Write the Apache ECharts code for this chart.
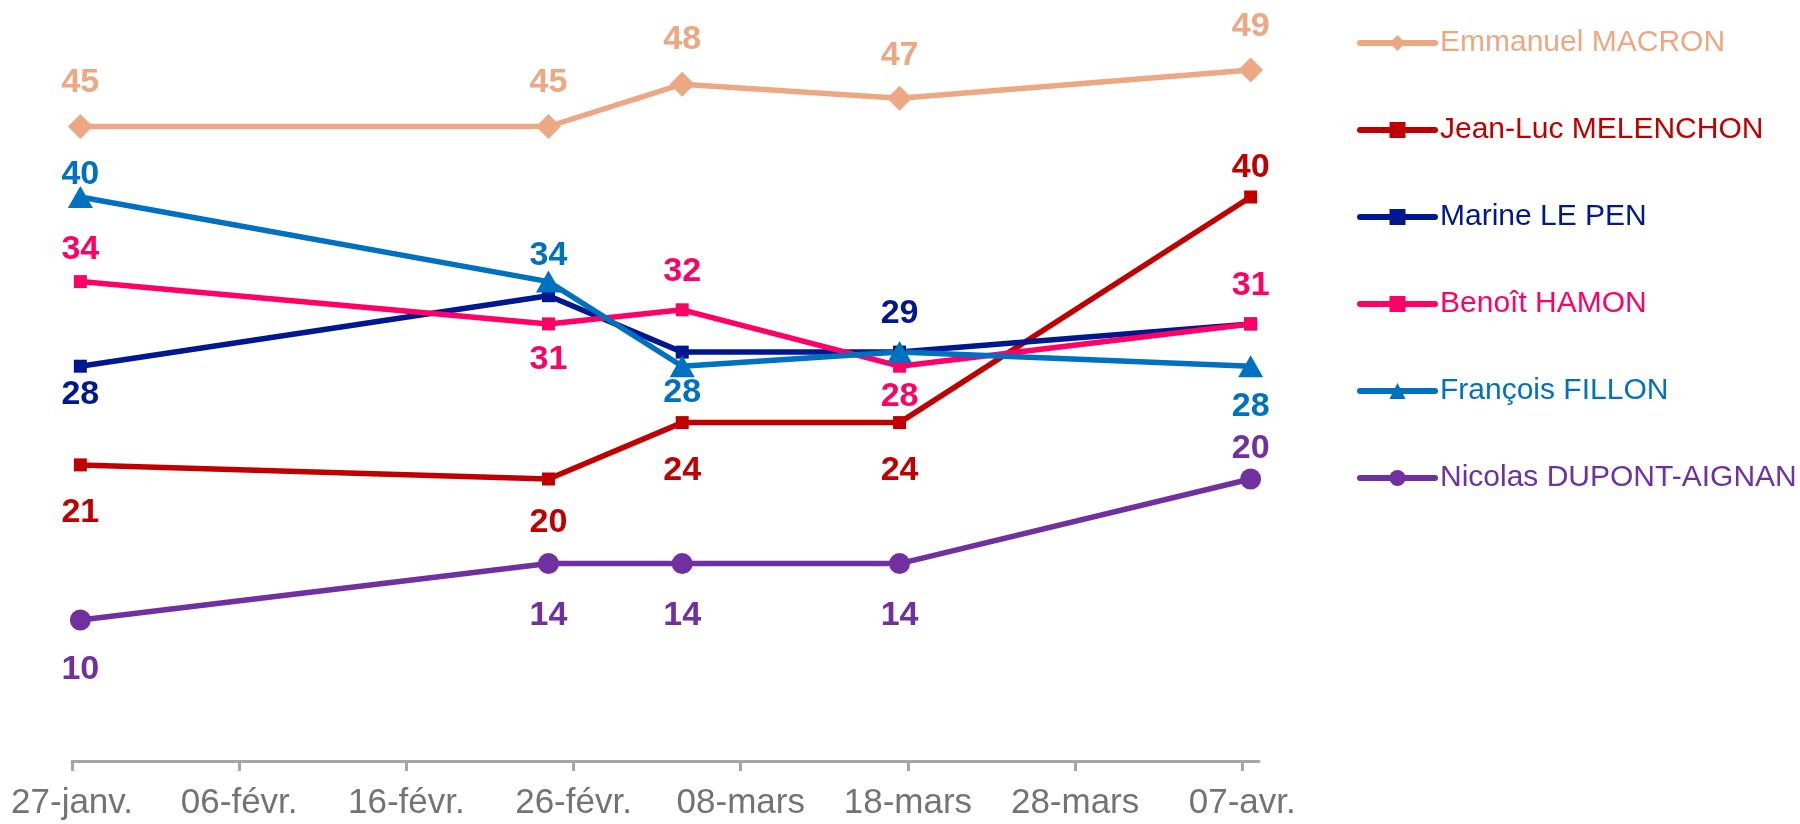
<!DOCTYPE html>
<html>
<head>
<meta charset="utf-8">
<script src="https://cdn.jsdelivr.net/npm/echarts@6/dist/echarts.min.js"></script>
<style>
  html, body { margin: 0; padding: 0; background: #ffffff; }
  #chart { width: 1800px; height: 824px; }
</style>
</head>
<body>
<div id="chart"></div>
<script>
// Survey waves
const pollDates = ['2017-01-27', '2017-02-24', '2017-03-04', '2017-03-17', '2017-04-07'];

// Scores per candidate, one value per survey wave
const macron       = [45, 45, 48, 47, 49];
const melenchon    = [21, 20, 24, 24, 40];
const lePen        = [28, 33, 29, 29, 31];
const hamon        = [34, 31, 32, 28, 31];
const fillon       = [40, 34, 28, 29, 28];
const dupontAignan = [10, 14, 14, 14, 20];

const candidateNames = [
  'Emmanuel MACRON', 'Jean-Luc MELENCHON', 'Marine LE PEN',
  'Benoît HAMON', 'François FILLON', 'Nicolas DUPONT-AIGNAN'
];
const candidateScores = [macron, melenchon, lePen, hamon, fillon, dupontAignan];

// Date axis: starts on 27 January, one tick every 10 days
const axisStart = '2017-01-27';
const tickLabels = ['27-janv.', '06-févr.', '16-févr.', '26-févr.', '08-mars', '18-mars', '28-mars', '07-avr.'];

// ---- presentation ----
const DAY_MS = 86400000;
const TICK_DAYS = 10;
// every point sits in the middle of its own day slot
const dayOffset = d => (Date.parse(d) - Date.parse(axisStart)) / DAY_MS + 0.5;
const tickValues = tickLabels.map((_, i) => i * TICK_DAYS);

// Vertical offset of each value label from its point (null = no label)
const seriesStyles = [
  { color: '#EBA883', symbol: 'diamond',  size: 25,       labelDy: [-44, -44, -45, -43, -43] },
  { color: '#C00000', symbol: 'rect',     size: 13,       labelDy: [48, 44, 48, 48, -29] },
  { color: '#00188F', symbol: 'rect',     size: 13,       labelDy: [28, null, null, -38, null] },
  { color: '#FF0066', symbol: 'rect',     size: 13,       labelDy: [-32, 36, -38, 30, -38] },
  { color: '#0070C0', symbol: 'triangle', size: [25, 22], labelDy: [-22, -26, 26, null, 40] },
  { color: '#7030A0', symbol: 'circle',   size: 21,       labelDy: [50, 52, 52, 52, -30] }
];

const FONT = '"Liberation Sans", Arial, sans-serif';

const series = candidateNames.map((name, s) => {
  const st = seriesStyles[s];
  return {
    name: name,
    type: 'line',
    symbol: st.symbol,
    symbolSize: st.size,
    showAllSymbol: true,
    silent: true,
    lineStyle: { color: st.color, width: 5.5 },
    itemStyle: { color: st.color, borderWidth: 0 },
    emphasis: { disabled: true },
    data: candidateScores[s].map((v, i) => {
      const dy = st.labelDy[i];
      return {
        value: [dayOffset(pollDates[i]), v],
        label: {
          show: dy !== null,
          position: 'inside',
          offset: [0, dy === null ? 0 : dy],
          formatter: String(v),
          color: st.color,
          fontSize: 34,
          fontWeight: 'bold',
          fontFamily: FONT,
          textBorderWidth: 0
        }
      };
    })
  };
});

const chart = echarts.init(document.getElementById('chart'), null, { renderer: 'canvas' });
chart.setOption({
  animation: false,
  backgroundColor: '#ffffff',
  grid: { left: 72, right: 541, top: 56, bottom: 63, containLabel: false },
  legend: {
    orient: 'vertical',
    left: 1357,
    top: 28,
    padding: 0,
    itemWidth: 75,
    itemHeight: 20,
    itemGap: 57,
    selectedMode: false,
    lineStyle: { width: 6, cap: 'round' },
    textStyle: { fontSize: 30, fontFamily: FONT },
    data: candidateNames.map((n, i) => ({ name: n, textStyle: { color: seriesStyles[i].color } }))
  },
  xAxis: {
    type: 'value',
    min: 0,
    max: 71,
    interval: TICK_DAYS,
    splitLine: { show: false },
    axisLine: { show: true, lineStyle: { color: '#A6A6A6', width: 3 } },
    axisTick: { show: true, length: 10, customValues: tickValues, lineStyle: { color: '#A6A6A6', width: 3 } },
    axisLabel: {
      customValues: tickValues,
      margin: 25,
      fontSize: 35,
      fontFamily: FONT,
      color: '#737373',
      formatter: v => tickLabels[Math.round(v / TICK_DAYS)] || ''
    }
  },
  yAxis: {
    type: 'value',
    min: 0,
    max: 50,
    show: false,
    splitLine: { show: false }
  },
  series: series
});
</script>
</body>
</html>
